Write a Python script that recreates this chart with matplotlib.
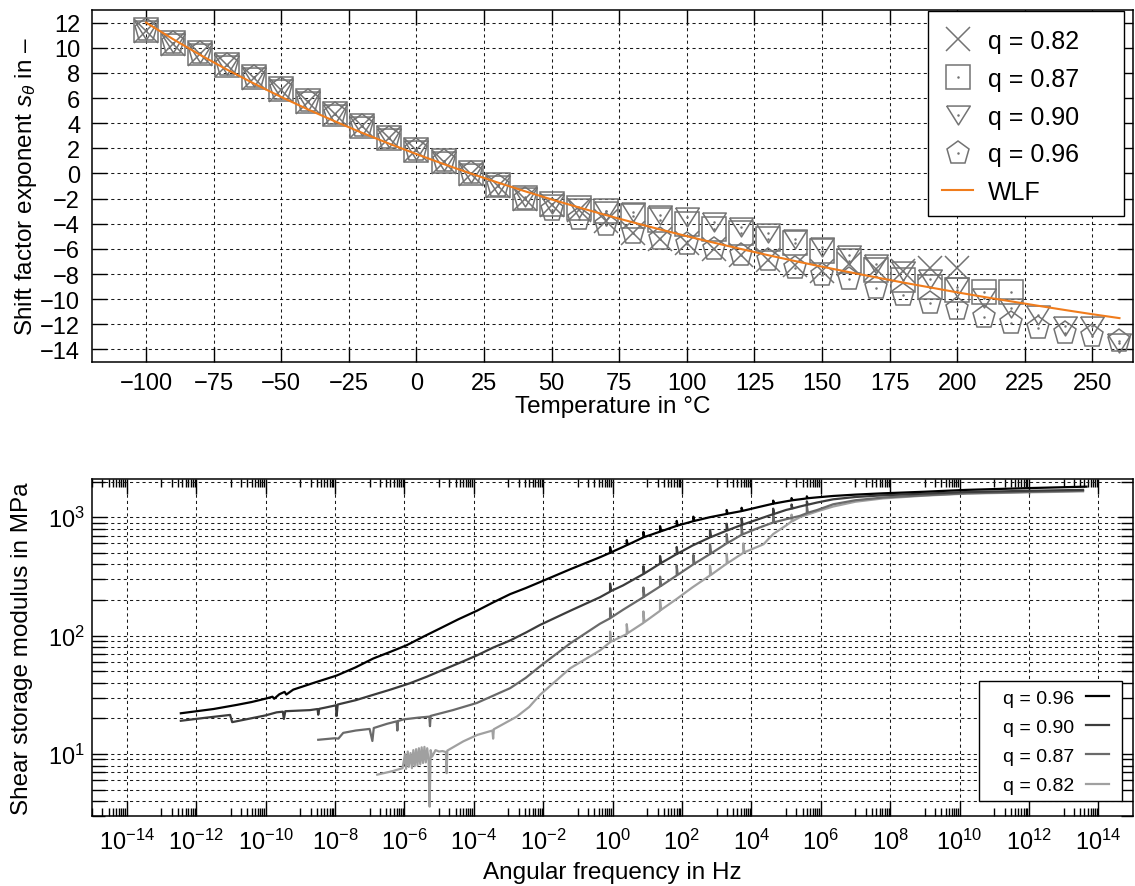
import numpy as np
import matplotlib
matplotlib.use('Agg')
import matplotlib.pyplot as plt
from matplotlib.patches import Rectangle
from matplotlib.ticker import FixedLocator, NullFormatter, LogFormatterSciNotation
from matplotlib.legend_handler import HandlerTuple

plt.rcParams['font.family'] = ['Liberation Sans', 'DejaVu Sans']
plt.rcParams['mathtext.fontset'] = 'custom'
plt.rcParams['mathtext.rm'] = 'Liberation Sans'
plt.rcParams['mathtext.it'] = 'Liberation Sans:italic'
plt.rcParams['mathtext.bf'] = 'Liberation Sans:bold'

# ---------------- top chart data ----------------
T82 = list(range(-100, 201, 10))
s82 = [11.3, 10.3, 9.5, 8.6, 7.6, 6.6, 5.7, 4.7, 3.8, 2.8, 1.9, 0.9, -0.05, -1.0, -2.0,
       -2.5, -2.9, -3.8, -4.7, -5.2, -5.5, -6.0, -6.5, -6.85, -7.3, -7.8, -7.2, -7.6,
       -7.8, -7.5, -7.5]
T87 = list(range(-100, 221, 10))
s87 = [11.4, 10.4, 9.6, 8.65, 7.65, 6.7, 5.75, 4.75, 3.8, 2.85, 1.9, 0.95, 0.0, -0.95,
       -1.95, -2.4, -2.77, -3.0, -3.36, -3.7, -4.0, -4.4, -4.77, -5.2, -5.5, -6.2, -7.0,
       -7.7, -8.5, -9.0, -9.3, -9.4, -9.4]
T90 = list(range(-100, 261, 10))
s90 = [11.4, 10.4, 9.6, 8.65, 7.65, 6.7, 5.75, 4.75, 3.8, 2.85, 1.9, 0.95, 0.0, -0.95,
       -1.9, -2.4, -2.75, -3.0, -3.1, -3.3, -3.5, -3.9, -4.3, -4.7, -5.2, -5.85, -6.5,
       -7.2, -7.8, -8.4, -9.0, -9.9, -10.7, -11.3, -12.1, -12.1, -13.5]
T96 = list(range(-100, 261, 10))
s96 = [11.4, 10.4, 9.6, 8.65, 7.65, 6.7, 5.75, 4.75, 3.8, 2.85, 1.9, 0.95, 0.0, -1.0,
       -2.0, -2.9, -3.6, -4.1, -4.7, -5.2, -5.6, -6.0, -6.5, -6.9, -7.5, -8.1, -8.4,
       -9.1, -9.7, -10.3, -10.8, -11.4, -11.9, -12.3, -12.7, -12.9, -13.3]
T_wlf = list(range(-100, 261, 10))
s_wlf = [12.0, 10.68, 9.43, 8.25, 7.14, 6.08, 5.08, 4.13, 3.22, 2.36, 1.54, 0.75, 0.0,
         -0.72, -1.41, -2.07, -2.70, -3.31, -3.89, -4.45, -4.99, -5.51, -6.01, -6.50,
         -6.97, -7.42, -7.85, -8.27, -8.68, -9.07, -9.46, -9.83, -10.18, -10.53, -10.87,
         -11.20, -11.51]
top_labels = ['q = 0.82', 'q = 0.87', 'q = 0.90', 'q = 0.96', 'WLF']
xticks_top = list(range(-100, 251, 25))
yticks_top = list(range(-14, 13, 2))

# ---------------- bottom chart data: (log10 angular frequency, modulus in MPa) ----------------
c96 = [(-12.44, 22.1), (-11.5, 24.0), (-10.83, 26), (-10.4, 27.5), (-9.97, 29.5),
       (-9.8, 30.5), (-9.75, 29.3), (-9.6, 32), (-9.45, 33.5), (-9.4, 31.8), (-9.2, 35),
       (-8.6, 40), (-7.95, 46), (-7.4, 54), (-6.9, 64), (-6.4, 73), (-5.93, 83),
       (-5.45, 98), (-4.97, 115), (-4.45, 137), (-3.91, 162), (-3.45, 190), (-2.95, 224),
       (-2.5, 252), (-2.09, 283), (-1.22, 363), (-0.36, 459), (-0.07, 500), (-0.07, 560),
       (-0.04, 505), (0.3, 560), (0.41, 580), (0.41, 640), (0.44, 585), (0.89, 675),
       (0.89, 750), (0.92, 680), (1.37, 755), (1.37, 840), (1.40, 760), (1.85, 845),
       (1.85, 930), (1.88, 850), (2.33, 925), (2.33, 1010), (2.36, 930), (2.81, 1000),
       (3.29, 1065), (3.29, 1150), (3.32, 1070), (3.72, 1125), (3.72, 1200), (3.75, 1130),
       (4.2, 1215), (4.63, 1300), (4.63, 1380), (4.66, 1305), (5.0, 1360), (5.16, 1385),
       (5.16, 1450), (5.19, 1390), (5.4, 1415), (5.60, 1440), (5.60, 1500), (5.63, 1445),
       (5.9, 1470), (6.36, 1510), (7.0, 1550), (7.8, 1590), (9.0, 1640), (10.2, 1700),
       (12.0, 1760), (13.66, 1810)]
c90 = [(-12.44, 19.1), (-11.7, 20.3), (-11.02, 21.4), (-10.96, 18.6), (-10.5, 19.8),
       (-10.0, 21.2), (-9.68, 22.5), (-9.5, 22.8), (-9.47, 19.8), (-9.43, 23.0),
       (-9.0, 23.3), (-8.72, 23.5), (-8.5, 24.0), (-8.48, 21.5), (-8.45, 24.1),
       (-8.3, 24.6), (-7.97, 25.8), (-7.95, 21.0), (-7.92, 26.2), (-7.4, 28.5),
       (-6.9, 31.6), (-6.4, 35), (-5.84, 39.6), (-5.35, 45), (-4.88, 51.5), (-4.4, 59),
       (-3.91, 68), (-3.45, 79), (-2.95, 91), (-2.5, 106), (-2.09, 123), (-1.22, 162),
       (-0.36, 211), (-0.07, 235), (-0.07, 275), (-0.04, 238), (0.3, 265), (0.89, 331),
       (0.89, 385), (0.92, 335), (1.37, 405), (1.37, 470), (1.40, 410), (1.85, 488),
       (1.85, 560), (1.88, 493), (2.3, 575), (2.81, 675), (2.81, 780), (2.84, 680),
       (3.29, 770), (3.29, 880), (3.32, 775), (3.72, 860), (3.72, 980), (3.75, 865),
       (4.2, 960), (4.63, 1060), (4.63, 1180), (4.66, 1065), (5.0, 1150), (5.16, 1180),
       (5.16, 1280), (5.19, 1185), (5.4, 1230), (5.60, 1270), (5.60, 1360), (5.63, 1275),
       (5.9, 1330), (6.36, 1415), (7.0, 1480), (7.8, 1530), (9.0, 1580), (10.2, 1630),
       (12.0, 1670), (13.56, 1700)]
c87 = [(-8.48, 13.2), (-8.0, 13.6), (-7.9, 13.5), (-7.76, 15.1), (-7.4, 15.8), (-7.0, 16.3),
       (-6.92, 12.9), (-6.88, 16.6), (-6.5, 18.0), (-6.22, 18.9), (-6.2, 15.8), (-6.18, 19.0),
       (-6.03, 19.6), (-5.6, 20.3), (-5.28, 20.7), (-5.26, 17.2), (-5.24, 21.0), (-4.6, 23.5),
       (-3.91, 27), (-3.45, 31), (-2.95, 36), (-2.5, 44), (-2.09, 55), (-1.22, 86),
       (-0.36, 126), (-0.07, 140), (-0.07, 170), (-0.04, 142), (0.3, 165), (0.89, 211),
       (0.89, 255), (0.92, 214), (1.37, 260), (1.37, 315), (1.40, 263), (1.85, 322),
       (1.85, 390), (1.88, 326), (2.33, 400), (2.33, 480), (2.36, 405), (2.81, 488),
       (2.81, 590), (2.84, 494), (3.29, 600), (3.29, 720), (3.32, 606), (3.72, 710),
       (3.72, 850), (3.75, 716), (4.2, 810), (4.63, 902), (4.63, 1050), (4.66, 906),
       (5.0, 960), (5.4, 1025), (5.60, 1080), (5.60, 1250), (5.63, 1090), (5.9, 1150),
       (6.36, 1285), (7.0, 1390), (7.8, 1465), (9.0, 1530), (10.2, 1590), (12.0, 1635),
       (13.56, 1670)]
c82 = [(-6.78, 6.7), (-6.32, 7.2), (-6.05, 7.6), (-5.98, 10.0), (-5.95, 7.5), (-5.9, 10.5),
       (-5.87, 7.8), (-5.82, 10.2), (-5.78, 7.6), (-5.74, 10.8), (-5.7, 7.9), (-5.66, 11.0),
       (-5.62, 8.0), (-5.58, 11.2), (-5.54, 8.2), (-5.5, 11.4), (-5.46, 8.4), (-5.42, 11.5),
       (-5.38, 8.5), (-5.34, 11.2), (-5.3, 8.8), (-5.27, 3.6), (-5.24, 10.8), (-5.2, 9.5),
       (-5.1, 10.8), (-5.0, 10.5), (-4.9, 10.6), (-4.8, 10.4), (-4.78, 6.9), (-4.76, 10.7),
       (-4.3, 12.8), (-3.9, 14.5), (-3.46, 15.8), (-3.44, 13.5), (-3.42, 16.2),
       (-2.76, 20.7), (-2.4, 25), (-2.09, 31.6), (-1.22, 53), (-0.36, 75), (-0.07, 88),
       (-0.07, 108), (-0.04, 89), (0.41, 103), (0.41, 125), (0.44, 105), (0.89, 128),
       (0.89, 160), (0.92, 130), (1.37, 162), (1.37, 200), (1.40, 165), (1.85, 204),
       (2.3, 255), (2.81, 322), (2.81, 390), (2.84, 326), (3.29, 405), (3.29, 490),
       (3.32, 410), (3.77, 500), (3.77, 600), (3.80, 505), (4.35, 590), (4.63, 720),
       (5.0, 850), (5.16, 920), (5.16, 1050), (5.19, 925), (5.4, 1000), (5.9, 1120),
       (6.36, 1230), (7.0, 1350), (7.8, 1440), (9.0, 1520), (10.2, 1580), (12.0, 1620),
       (13.56, 1650)]

bottom_labels = ['q = 0.96', 'q = 0.90', 'q = 0.87', 'q = 0.82']
bottom_colors = ['#000000', '#3c3c3c', '#6a6a6a', '#a0a0a0']

# ---------------- figure ----------------
W, H = 1135, 887
fig = plt.figure(figsize=(W / 100, H / 100), dpi=100)
ax1 = fig.add_axes([92 / W, 1 - 363 / H, 1041 / W, 352 / H])
ax2 = fig.add_axes([92 / W, 1 - 817 / H, 1041 / W, 337 / H])

FS = 17
LFS = 17.5
grid_kw = dict(color='0.1', lw=0.75, ls=(0, (3, 3)))


def px_to_axes(ax_left, ax_top, ax_w, ax_h, x, y):
    return (x - ax_left) / ax_w, (ax_top + ax_h - y) / ax_h


# ---- top ----
gray = '0.45'
mk = dict(ls='none', mfc='none', mec=gray, mew=1.1, ms=17)
tri_down = [(-1, 0.8), (1, 0.8), (0, -0.8), (-1, 0.8)]
h82, = ax1.plot(T82, s82, marker='x', **mk)
h87, = ax1.plot(T87, s87, marker='s', **mk)
h90, = ax1.plot(T90, s90, marker=tri_down, **mk)
h96, = ax1.plot(T96, s96, marker='p', **mk)
dot = dict(ls='none', marker='.', ms=1.6, color=gray)
d87, = ax1.plot(T87, s87, **dot)
d90, = ax1.plot(T90, s90, **dot)
d96, = ax1.plot(T96, s96, **dot)
hw, = ax1.plot(T_wlf, s_wlf, color='#f07c1c', lw=1.5, zorder=3)

ax1.set_xlim(-120, 265)
ax1.set_ylim(-15, 13)
ax1.set_xticks(xticks_top)
ax1.set_yticks(yticks_top)
ax1.grid(True, **grid_kw)
ax1.tick_params(direction='in', top=True, right=True, length=11, width=1.0,
                labelsize=FS)
ax1.tick_params(axis='y', pad=8.5)
ax1.tick_params(axis='x', pad=7)
ax1.set_xlabel('Temperature in °C', fontsize=LFS)
ax1.set_ylabel('Shift factor exponent $s_{\\theta}$ in \u2013', fontsize=LFS)
ax1.yaxis.set_label_coords(-0.051, 0.5)
ax1.xaxis.set_label_coords(0.5, -0.095)
for sp in ax1.spines.values():
    sp.set_linewidth(1.1)

# legend frame drawn as a box (wider than its content, as in the reference)
bx0, by0 = px_to_axes(92, 11, 1041, 352, 928, 217)
bx1, by1 = px_to_axes(92, 11, 1041, 352, 1124, 12)
ax1.add_patch(Rectangle((bx0, by0), bx1 - bx0, by1 - by0, transform=ax1.transAxes,
                        fc='white', ec='k', lw=1.0, zorder=4.5, clip_on=False))
lx, ly = px_to_axes(92, 11, 1041, 352, 942, 30)
leg1 = ax1.legend([h82, (h87, d87), (h90, d90), (h96, d96), hw], top_labels,
                  loc='upper left', bbox_to_anchor=(lx, ly), borderaxespad=0,
                  borderpad=0, fontsize=18, frameon=False,
                  handler_map={tuple: HandlerTuple(ndivide=1, pad=0)},
                  handlelength=1.24, handletextpad=0.6, labelspacing=0.55)
leg1.set_zorder(6)

# ---- bottom ----
order = [(c82, 3), (c87, 2), (c90, 1), (c96, 0)]
handles = [None] * 4
for c, idx in order:
    lf = np.array([p[0] for p in c])
    G = np.array([p[1] for p in c])
    h, = ax2.plot(10.0 ** lf, G, color=bottom_colors[idx], lw=1.6)
    handles[idx] = h

ax2.set_xscale('log')
ax2.set_yscale('log')
ax2.set_xlim(1e-15, 1e15)
ax2.set_ylim(3, 2100)
ax2.xaxis.set_major_locator(FixedLocator([10.0 ** k for k in range(-14, 15, 2)]))
ax2.xaxis.set_minor_locator(FixedLocator([m * 10.0 ** k for k in range(-15, 15, 2)
                                          for m in range(1, 10)]))
ax2.xaxis.set_major_formatter(LogFormatterSciNotation())
ax2.xaxis.set_minor_formatter(NullFormatter())
ax2.yaxis.set_minor_formatter(NullFormatter())
ax2.grid(True, which='major', axis='both', **grid_kw)
ax2.grid(True, which='minor', axis='y', **grid_kw)
ax2.tick_params(which='both', direction='in', top=True, right=True, width=1.0,
                labelsize=FS)
ax2.tick_params(which='major', length=11)
ax2.tick_params(which='minor', length=6)
ax2.tick_params(axis='y', which='minor', length=9)
ax2.tick_params(axis='y', pad=5)
ax2.tick_params(axis='x', pad=9)
ax2.set_xlabel('Angular frequency in Hz', fontsize=LFS)
ax2.set_ylabel('Shear storage modulus in MPa', fontsize=LFS)
ax2.yaxis.set_label_coords(-0.057, 0.5)
ax2.xaxis.set_label_coords(0.5, -0.135)
for sp in ax2.spines.values():
    sp.set_linewidth(1.1)

bx0, by0 = px_to_axes(92, 480, 1041, 337, 979, 802)
bx1, by1 = px_to_axes(92, 480, 1041, 337, 1122, 682)
ax2.add_patch(Rectangle((bx0, by0), bx1 - bx0, by1 - by0, transform=ax2.transAxes,
                        fc='white', ec='k', lw=1.0, zorder=4.5, clip_on=False))
lx, ly = px_to_axes(92, 480, 1041, 337, 1109, 690)
leg2 = ax2.legend(handles, bottom_labels, loc='upper right', bbox_to_anchor=(lx, ly),
                  borderaxespad=0, borderpad=0, fontsize=14, markerfirst=False,
                  frameon=False, handlelength=1.2, handletextpad=0.57,
                  labelspacing=0.6)
leg2.set_zorder(6)

fig.savefig('out.png', dpi=100)
